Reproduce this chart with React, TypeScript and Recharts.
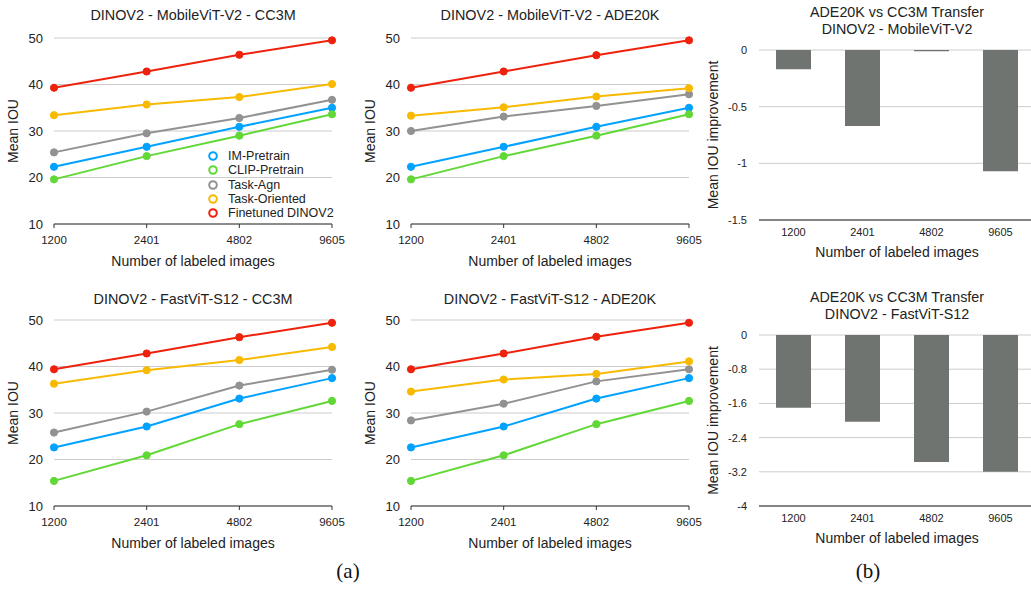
import { LineChart, Line, BarChart, Bar, XAxis, YAxis, CartesianGrid, Label } from "recharts"

const sizes = ["1200", "2401", "4802", "9605"]
const seriesKeys = ["im", "clip", "agn", "ori", "ft"]
const seriesNames = ["IM-Pretrain", "CLIP-Pretrain", "Task-Agn", "Task-Oriented", "Finetuned DINOV2"]
const seriesColors = ["#00A2FF", "#61D836", "#929292", "#F8BA00", "#EE220C"]

// DINOV2 - MobileViT-V2 - CC3M
const mvCc3mIm = [22.3, 26.6, 30.9, 35.0]
const mvCc3mClip = [19.6, 24.6, 29.0, 33.6]
const mvCc3mAgn = [25.4, 29.5, 32.8, 36.7]
const mvCc3mOri = [33.4, 35.7, 37.3, 40.1]
const mvCc3mFt = [39.3, 42.8, 46.4, 49.5]

// DINOV2 - MobileViT-V2 - ADE20K
const mvAdeIm = [22.3, 26.6, 30.9, 35.0]
const mvAdeClip = [19.6, 24.6, 29.0, 33.6]
const mvAdeAgn = [30.0, 33.1, 35.4, 37.9]
const mvAdeOri = [33.3, 35.1, 37.4, 39.2]
const mvAdeFt = [39.3, 42.8, 46.3, 49.5]

// DINOV2 - FastViT-S12 - CC3M
const fvCc3mIm = [22.6, 27.1, 33.1, 37.5]
const fvCc3mClip = [15.4, 20.9, 27.6, 32.6]
const fvCc3mAgn = [25.8, 30.3, 35.9, 39.3]
const fvCc3mOri = [36.3, 39.2, 41.4, 44.2]
const fvCc3mFt = [39.4, 42.8, 46.3, 49.4]

// DINOV2 - FastViT-S12 - ADE20K
const fvAdeIm = [22.6, 27.1, 33.1, 37.5]
const fvAdeClip = [15.4, 20.9, 27.6, 32.6]
const fvAdeAgn = [28.4, 32.0, 36.8, 39.4]
const fvAdeOri = [34.6, 37.2, 38.4, 41.1]
const fvAdeFt = [39.4, 42.8, 46.4, 49.4]

// ADE20K vs CC3M transfer
const mvTransfer = [-0.17, -0.67, -0.01, -1.07]
const fvTransfer = [-1.7, -2.03, -2.97, -3.2]

const iouTicks = [10, 20, 30, 40, 50]
const mvTransferTicks = [0, -0.5, -1, -1.5]
const fvTransferTicks = [0, -0.8, -1.6, -2.4, -3.2, -4]

const font = '"Liberation Sans", Arial, Helvetica, sans-serif'
const textColor = "#222"

function buildRows(cols: number[][]) {
  return sizes.map((s, i) => {
    const row: Record<string, any> = { size: s }
    seriesKeys.forEach((k, j) => (row[k] = cols[j][i]))
    return row
  })
}

function LinePanel({ left, top, title, titleY, cols, legend }: { left: number; top: number; title: string; titleY: number; cols: number[][]; legend?: boolean }) {
  const data = buildRows(cols)
  return (
    <div style={{ position: "absolute", left, top, width: 352, height: 280 }}>
      <div style={{ position: "absolute", left: 43, width: 300, top: titleY - 9, lineHeight: "18px", textAlign: "center", fontSize: 14.4, color: textColor, whiteSpace: "nowrap" }}>
        {title}
      </div>
      <LineChart width={352} height={280} data={data} margin={{ top: 38, right: 20, bottom: 26, left: 0 }}>
        <CartesianGrid vertical={false} stroke="#cccccc" />
        <XAxis dataKey="size" padding={{ left: 0, right: 0 }} interval={0} axisLine={{ stroke: "#333" }} tickLine={{ stroke: "#333" }} tickSize={4} tickMargin={8} height={30} tick={{ fontSize: 11.5, fill: textColor }}>
          <Label value="Number of labeled images" position="bottom" offset={2} style={{ fontSize: 14, fill: textColor }} />
        </XAxis>
        <YAxis domain={[10, 50]} ticks={iouTicks} width={54} axisLine={false} tickLine={false} tickSize={0} tickMargin={11} tick={{ fontSize: 13, fill: textColor }}>
          <Label value="Mean IOU" angle={-90} position="insideLeft" offset={13} style={{ fontSize: 14, fill: textColor, textAnchor: "middle" }} />
        </YAxis>
        {seriesKeys.map((k, j) => (
          <Line
            key={k}
            dataKey={k}
            name={seriesNames[j]}
            type="linear"
            stroke={seriesColors[j]}
            strokeWidth={2}
            dot={{ r: 3.6, fill: seriesColors[j], stroke: seriesColors[j], strokeWidth: 1 }}
            activeDot={false}
            isAnimationActive={false}
          />
        ))}
      </LineChart>
      {legend && (
        <div style={{ position: "absolute", left: 206, top: 149, fontSize: 12.5, color: textColor, lineHeight: "14.3px" }}>
          {seriesNames.map((n, j) => (
            <div key={n} style={{ display: "flex", alignItems: "center", height: 14.3, whiteSpace: "nowrap" }}>
              <svg width={14} height={14} style={{ marginRight: 8 }}>
                <circle cx={7} cy={7} r={3.8} fill="#fff" stroke={seriesColors[j]} strokeWidth={2} />
              </svg>
              {n}
            </div>
          ))}
        </div>
      )}
    </div>
  )
}

function BarPanel({ left, top, titles, titleY, marginTop, plotH, values, domain, ticks }: { left: number; top: number; titles: string[]; titleY: number; marginTop: number; plotH: number; values: number[]; domain: number[]; ticks: number[] }) {
  const data = sizes.map((s, i) => ({ size: s, value: values[i] }))
  const height = marginTop + plotH + 22 + 20
  return (
    <div style={{ position: "absolute", left, top, width: 340, height }}>
      {titles.map((t, i) => (
        <div key={t} style={{ position: "absolute", left: 47, width: 300, top: titleY + i * 17 - 9, lineHeight: "18px", textAlign: "center", fontSize: 14.3, color: textColor, whiteSpace: "nowrap" }}>
          {t}
        </div>
      ))}
      <BarChart width={340} height={height} data={data} margin={{ top: marginTop, right: 5, bottom: 20, left: 0 }}>
        <CartesianGrid vertical={false} stroke="#cccccc" />
        <XAxis dataKey="size" interval={0} axisLine={{ stroke: "#222" }} tickLine={false} tickSize={0} tickMargin={8} height={22} tick={{ fontSize: 11, fill: textColor }}>
          <Label value="Number of labeled images" position="bottom" offset={5} style={{ fontSize: 14, fill: textColor }} />
        </XAxis>
        <YAxis domain={domain} ticks={ticks} width={59} axisLine={false} tickLine={false} tickSize={0} tickMargin={12} tick={{ fontSize: 11, fill: textColor }}>
          <Label value="Mean IOU improvement" angle={-90} position="insideLeft" offset={13} style={{ fontSize: 14, fill: textColor, textAnchor: "middle" }} />
        </YAxis>
        <Bar dataKey="value" fill="#707471" barSize={35} isAnimationActive={false} />
      </BarChart>
    </div>
  )
}

export default function App() {
  return (
    <div style={{ position: "absolute", left: 0, top: 0, width: 1031, height: 590, overflow: "hidden", background: "#fff", fontFamily: font }}>
      <LinePanel left={0} top={0} title="DINOV2 - MobileViT-V2 - CC3M" titleY={15} cols={[mvCc3mIm, mvCc3mClip, mvCc3mAgn, mvCc3mOri, mvCc3mFt]} legend />
      <LinePanel left={357} top={0} title="DINOV2 - MobileViT-V2 - ADE20K" titleY={15} cols={[mvAdeIm, mvAdeClip, mvAdeAgn, mvAdeOri, mvAdeFt]} />
      <LinePanel left={0} top={282} title="DINOV2 - FastViT-S12 - CC3M" titleY={17.3} cols={[fvCc3mIm, fvCc3mClip, fvCc3mAgn, fvCc3mOri, fvCc3mFt]} />
      <LinePanel left={357} top={282} title="DINOV2 - FastViT-S12 - ADE20K" titleY={17.3} cols={[fvAdeIm, fvAdeClip, fvAdeAgn, fvAdeOri, fvAdeFt]} />
      <BarPanel left={700} top={0} titles={["ADE20K vs CC3M Transfer", "DINOV2 - MobileViT-V2"]} titleY={12.3} marginTop={50} plotH={170} values={mvTransfer} domain={[-1.5, 0]} ticks={mvTransferTicks} />
      <BarPanel left={700} top={282} titles={["ADE20K vs CC3M Transfer", "DINOV2 - FastViT-S12"]} titleY={15.3} marginTop={53} plotH={171} values={fvTransfer} domain={[-4, 0]} ticks={fvTransferTicks} />
      <div style={{ position: "absolute", left: 298, width: 100, top: 559, lineHeight: "24px", textAlign: "center", fontSize: 21, fontFamily: '"Liberation Serif", "Times New Roman", serif', color: "#111" }}>(a)</div>
      <div style={{ position: "absolute", left: 818, width: 100, top: 559, lineHeight: "24px", textAlign: "center", fontSize: 21, fontFamily: '"Liberation Serif", "Times New Roman", serif', color: "#111" }}>(b)</div>
    </div>
  )
}
